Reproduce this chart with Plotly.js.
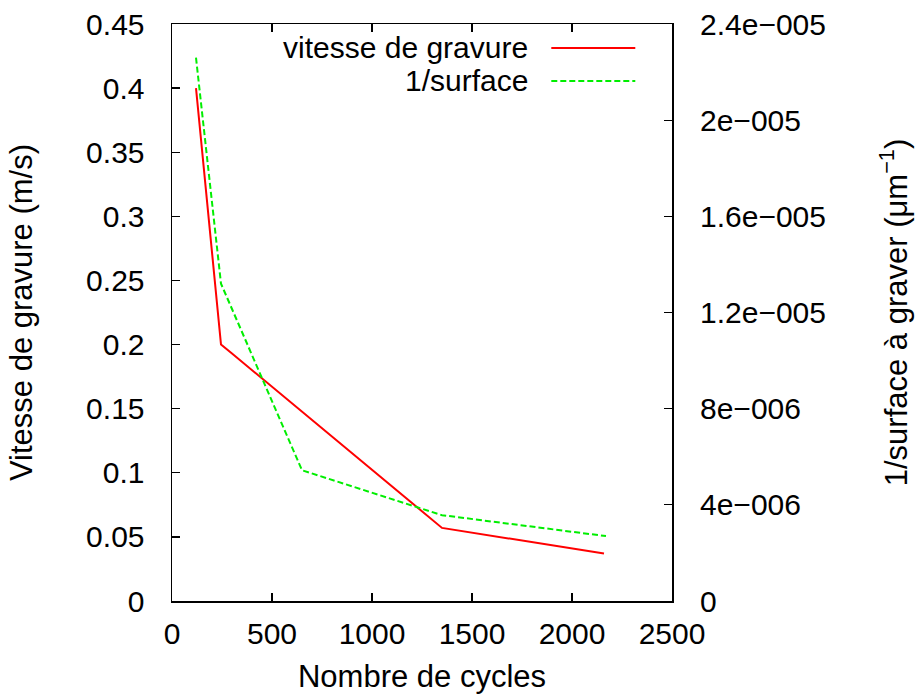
<!DOCTYPE html>
<html>
<head>
<meta charset="utf-8">
<script src="https://cdn.plot.ly/plotly-3.0.1.min.js"></script>
<style>html,body{margin:0;padding:0;background:#fff;}#chart{width:915px;height:694px;}</style>
</head>
<body>
<div id="chart"></div>
<script>
// Data
const cyclesVitesse = [120, 245, 300, 1350, 2160];
const vitesse = [0.4, 0.2, 0.193, 0.057, 0.037];
const cyclesSurface = [120, 245, 650, 1350, 2170];
const invSurface = [2.26e-5, 1.32e-5, 5.44e-6, 3.57e-6, 2.7e-6];
const y2TickVals = [0, 4e-6, 8e-6, 1.2e-5, 1.6e-5, 2e-5, 2.4e-5];
const y2TickText = ["0", "4e\u2212006", "8e\u2212006", "1.2e\u2212005", "1.6e\u2212005", "2e\u2212005", "2.4e\u2212005"];
const seriesNames = ["vitesse de gravure", "1/surface"];

const FONT = "Liberation Sans, Arial, Helvetica, sans-serif";
const RED = "#ff0000", GREEN = "#00ee00";

const traces = [
  {x: cyclesVitesse, y: vitesse, type: "scatter", mode: "lines", name: seriesNames[0],
   line: {color: RED, width: 2}, yaxis: "y", showlegend: false},
  {x: cyclesSurface, y: invSurface, type: "scatter", mode: "lines", name: seriesNames[1],
   line: {color: GREEN, width: 2, dash: "6px,3px"}, yaxis: "y2", showlegend: false}
];

const legY = [0.9585, 0.9013];
const layout = {
  width: 915, height: 694,
  margin: {l: 172, r: 243, t: 24, b: 93, pad: 0},
  paper_bgcolor: "#fff", plot_bgcolor: "#fff",
  font: {family: FONT, size: 30, color: "#000"},
  showlegend: false,
  xaxis: {
    range: [0, 2500], tickmode: "linear", tick0: 0, dtick: 500,
    ticks: "inside", ticklen: 8, tickwidth: 1.3, tickcolor: "#000",
    showline: true, linecolor: "#000", linewidth: 1.5, mirror: "ticks",
    showgrid: false, zeroline: false, ticklabelstandoff: 5,
    tickfont: {size: 30},
    title: {text: "Nombre de cycles", font: {size: 31}, standoff: 21}
  },
  yaxis: {
    range: [0, 0.45], tickmode: "linear", tick0: 0, dtick: 0.05,
    ticks: "inside", ticklen: 8, tickwidth: 1.3, tickcolor: "#000",
    showline: true, linecolor: "#000", linewidth: 1.5, mirror: true,
    showgrid: false, zeroline: false, ticklabelstandoff: 20,
    tickfont: {size: 30},
    title: {text: "Vitesse de gravure (m/s)", font: {size: 31}, standoff: 44}
  },
  yaxis2: {
    range: [0, 2.4e-5], overlaying: "y", side: "right",
    tickmode: "array", tickvals: y2TickVals, ticktext: y2TickText,
    ticks: "inside", ticklen: 8, tickwidth: 1.3, tickcolor: "#000",
    showline: false, showgrid: false, zeroline: false, ticklabelstandoff: 27,
    tickfont: {size: 30},
    title: {text: "1/surface \u00e0 graver (\u03bcm<sup>\u22121</sup>)", font: {size: 31}, standoff: 60}
  },
  annotations: seriesNames.map((n, i) => ({
    xref: "paper", yref: "paper", x: 0.7166, y: legY[i], xanchor: "right", yanchor: "middle",
    text: n, showarrow: false, font: {size: 30, color: "#000"}
  })),
  shapes: [
    {type: "line", xref: "paper", yref: "paper", x0: 0.7586, x1: 0.9266, y0: legY[0], y1: legY[0],
     line: {color: RED, width: 2}},
    {type: "line", xref: "paper", yref: "paper", x0: 0.7586, x1: 0.9266, y0: legY[1], y1: legY[1],
     line: {color: GREEN, width: 2, dash: "6px,3px"}}
  ]
};

Plotly.newPlot("chart", traces, layout, {displayModeBar: false, staticPlot: true});
</script>
</body>
</html>
